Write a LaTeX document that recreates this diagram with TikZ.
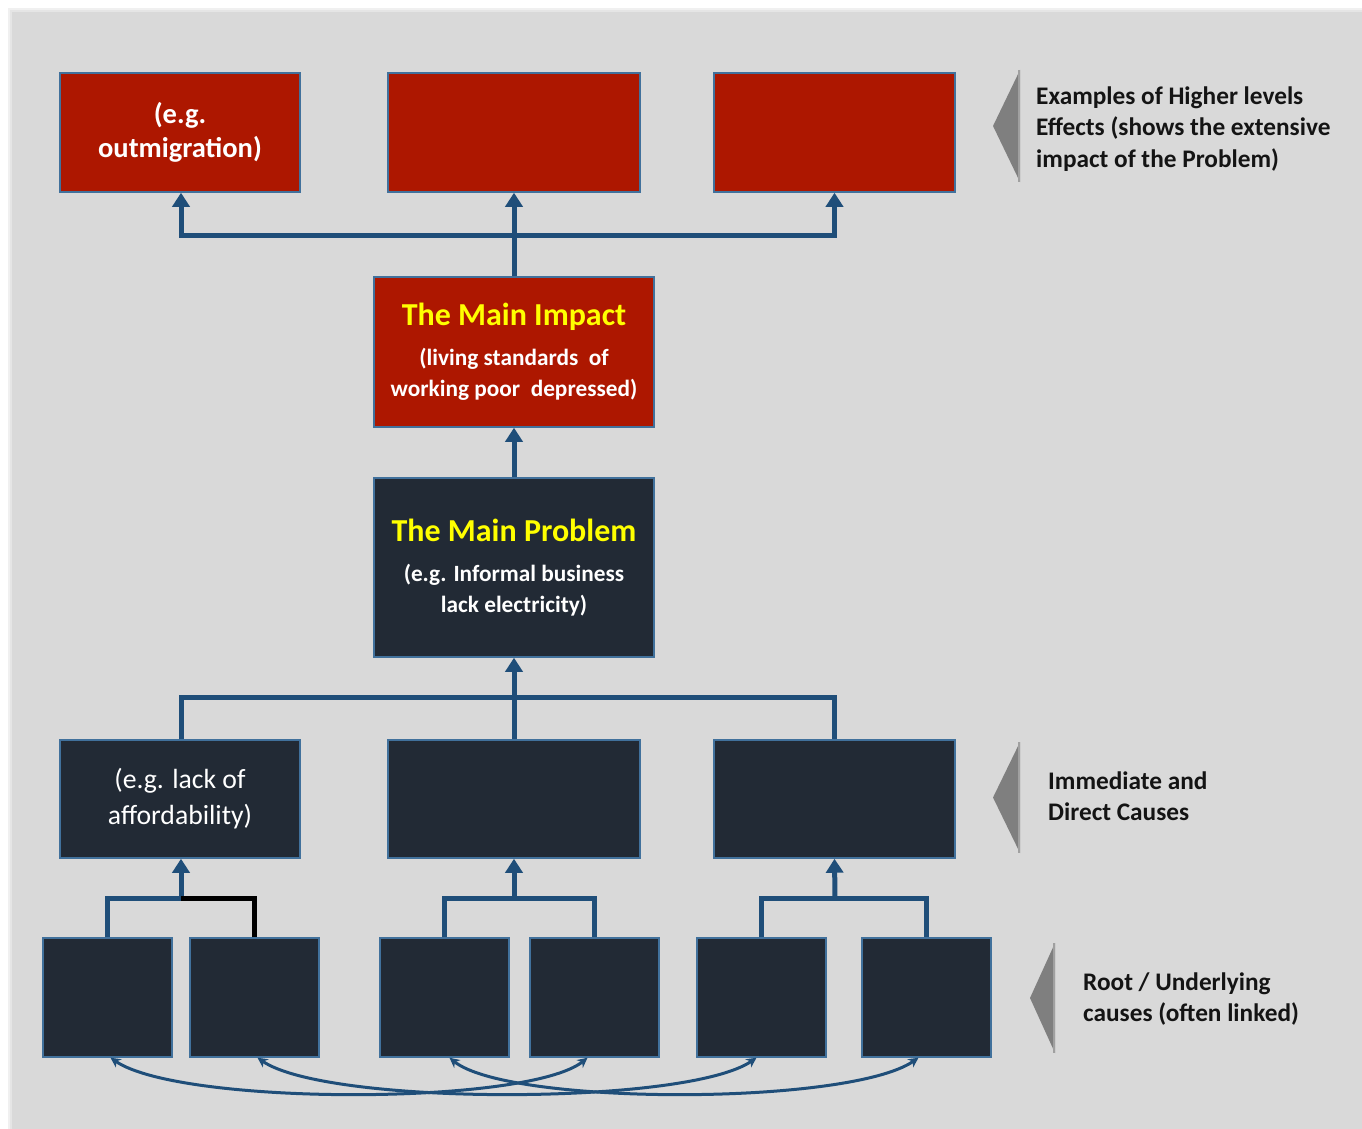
\documentclass[tikz,border=0pt]{standalone}
\usepackage{fontspec}
\setmainfont{Carlito}
\usetikzlibrary{arrows.meta,calc}

\definecolor{panel}{HTML}{D9D9D9}
\definecolor{effred}{HTML}{AD1700}
\definecolor{navy}{HTML}{222A35}
\definecolor{edge}{HTML}{41719C}
\definecolor{link}{HTML}{1F4E79}
\definecolor{wedge}{HTML}{7F7F7F}
\definecolor{wedgerim}{HTML}{A0A0A0}
\definecolor{titleyellow}{HTML}{FFFF00}
\definecolor{labeltext}{HTML}{141414}

\tikzset{
  box/.style={draw=edge, line width=1.5pt, inner sep=0pt, align=center,
    text=white, minimum height=119pt},
  redbox/.style={box, fill=effred},
  darkbox/.style={box, fill=navy},
  wide/.style={minimum width=241pt},
  rootbox/.style={darkbox, minimum width=129pt},
  conn/.style={draw=link, line width=5pt},
  blackconn/.style={draw=black, line width=5pt},
  uptip/.style={-{Triangle[length=14pt,width=17pt]}},
  linkcurve/.style={draw=link, line width=3pt,
    {Stealth[length=10pt,width=10pt]}-{Stealth[length=10pt,width=10pt]}},
  sidelabel/.style={anchor=west, align=left, inner sep=0pt, text=labeltext,
    font=\bfseries\fontsize{25.3}{31.5}\selectfont},
  marker/.style={fill=wedge},
  titled/.style={font=\bfseries\fontsize{23.3}{31}\selectfont},
}
\newcommand{\boxtitle}[1]{{\color{titleyellow}\fontsize{32}{38}\selectfont #1}}

\begin{document}
\begin{tikzpicture}[x=1pt,y=-1pt]
  % page frame and grey panel
  \useasboundingbox (0,0) rectangle (1362,1129);
  \fill[white] (0,0) rectangle (1362,1129);
  \fill[black!6] (8,8) rectangle (1362,1129);
  \fill[black!10] (10,10) rectangle (1362,1129);
  \fill[panel] (12,12) rectangle (1362,1129);

  % higher level effects
  \node[redbox, minimum width=240pt, font=\bfseries\fontsize{28.5}{34}\selectfont]
    (e1) at (180,132.5) {(e.g.\\ outmigration)};
  \node[redbox, minimum width=252pt] (e2) at (514,132.5) {};
  \node[redbox, wide] (e3) at (834.5,132.5) {};

  % main impact
  \node[redbox, titled, minimum width=280pt, minimum height=150pt] (imp) at (514,352)
    {\boxtitle{The Main Impact}\\[9pt]
     (living standards\ \ of\\ working poor\ \ depressed)};

  % main problem
  \node[darkbox, titled, minimum width=280pt, minimum height=179pt] (prob) at (514,567.5)
    {\boxtitle{The Main Problem}\\[9pt]
     (e.g. Informal business\\ lack electricity)};

  % immediate causes
  \node[darkbox, minimum width=240pt, minimum height=118pt, font=\fontsize{27.7}{36}\selectfont]
    (m1) at (180,799) {(e.g. lack of\\ affordability)};
  \node[darkbox, minimum width=252pt, minimum height=118pt] (m2) at (514,799) {};
  \node[darkbox, wide, minimum height=118pt] (m3) at (834.5,799) {};

  % root causes
  \node[rootbox] (r1) at (107.5,997.5) {};
  \node[rootbox] (r2) at (254.5,997.5) {};
  \node[rootbox] (r3) at (444.5,997.5) {};
  \node[rootbox] (r4) at (594.5,997.5) {};
  \node[rootbox] (r5) at (761.5,997.5) {};
  \node[rootbox] (r6) at (926.5,997.5) {};

  % junctions
  \coordinate (jtop) at (514,235);
  \coordinate (jmid) at (514,697);
  \coordinate (ja) at (181,898);
  \coordinate (jb) at (514,898);
  \coordinate (jc) at (835,898);

  % impact to effects
  \draw[conn, uptip] (jtop) -| ([xshift=1pt]e1.south);
  \draw[conn, uptip] (jtop) -| (e3.south);
  \draw[conn, uptip] (imp.north) -- (e2.south);

  % problem to impact
  \draw[conn, uptip] (prob.north) -- (imp.south);

  % immediate causes to problem
  \draw[conn] ([xshift=1pt]m1.north) |- (jmid) -| (m3.north);
  \draw[conn, uptip] (m2.north) -- (prob.south);

  % root causes to immediate causes
  \draw[conn] (r1.north) |- (ja);
  \draw[blackconn] (r2.north) |- (ja);
  \draw[conn, uptip] ([yshift=2.5pt]ja) -- ([xshift=1pt]m1.south);
  \draw[conn] (r3.north) |- (jb) -| (r4.north);
  \draw[conn, uptip] (jb) -- (m2.south);
  \draw[conn] (r5.north) |- (jc) -| (r6.north);
  \draw[conn, uptip] (jc) -- (m3.south);

  % links between root causes
  \draw[linkcurve] ([xshift=3pt]r1.south) .. controls +(70,48) and +(-60,48) .. ([xshift=-7pt]r4.south);
  \draw[linkcurve] ([xshift=3pt]r2.south) .. controls +(70,48) and +(-70,48) .. ([xshift=-5pt]r5.south);
  \draw[linkcurve] ([xshift=5pt]r3.south) .. controls +(60,48) and +(-70,48) .. ([xshift=-8pt]r6.south);

  % level markers
  \fill[marker] (1020,70) -- (993,126) -- (1020,182) -- cycle;
  \draw[wedgerim, line width=2pt] (1019,70) -- (1019,182);
  \fill[marker] (1020,742) -- (993,797.5) -- (1020,853) -- cycle;
  \draw[wedgerim, line width=2pt] (1019,742) -- (1019,853);
  \fill[marker] (1055,943) -- (1030,998) -- (1055,1053) -- cycle;
  \draw[wedgerim, line width=2pt] (1054,943) -- (1054,1053);

  % level labels
  \node[sidelabel] (l1) at (1036,129)
    {Examples of Higher levels\\ Effects (shows the extensive\\ impact of the Problem)};
  \node[sidelabel] (l2) at (1048,796)
    {Immediate and\\ Direct Causes};
  \node[sidelabel] (l3) at (1083,999)
    {Root / Underlying\\ causes (often linked)};
\end{tikzpicture}
\end{document}
